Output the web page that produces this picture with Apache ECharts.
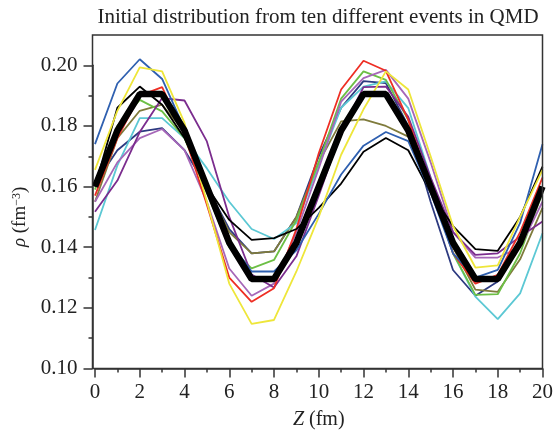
<!DOCTYPE html>
<html>
<head>
<meta charset="utf-8">
<title>QMD initial distribution</title>
<script src="https://cdn.jsdelivr.net/npm/echarts@6/dist/echarts.min.js"></script>
<style>
  html, body { margin: 0; padding: 0; background: #fff; }
  #chart { width: 556px; height: 435px; }
</style>
</head>
<body>
<div id="chart"></div>
<script>
// Z positions (fm)
var zPos = [0, 1, 2, 3, 4, 5, 6, 7, 8, 9, 10, 11, 12, 13, 14, 15, 16, 17, 18, 19, 20];

// density of the ten events
var evBlue   = [0.174, 0.194, 0.202, 0.1955, 0.179, 0.160, 0.142, 0.132, 0.132, 0.139, 0.151, 0.164, 0.1735, 0.178, 0.175, 0.158, 0.138, 0.130, 0.1325, 0.148, 0.174];
var evYellow = [0.1655, 0.185, 0.1993, 0.198, 0.181, 0.155, 0.128, 0.1147, 0.116, 0.132, 0.150, 0.1705, 0.1855, 0.198, 0.192, 0.170, 0.147, 0.1333, 0.134, 0.150, 0.1655];
var evBlack  = [0.160, 0.186, 0.193, 0.187, 0.176, 0.160, 0.149, 0.1424, 0.143, 0.146, 0.153, 0.161, 0.1715, 0.176, 0.172, 0.158, 0.147, 0.1394, 0.1388, 0.150, 0.1666];
var evRed    = [0.157, 0.176, 0.190, 0.1928, 0.177, 0.154, 0.130, 0.122, 0.1265, 0.146, 0.171, 0.192, 0.2015, 0.1982, 0.182, 0.160, 0.138, 0.128, 0.1309, 0.145, 0.163];
var evGreen  = [0.159, 0.180, 0.1886, 0.1848, 0.176, 0.158, 0.140, 0.133, 0.1358, 0.149, 0.168, 0.189, 0.198, 0.1952, 0.182, 0.160, 0.138, 0.1243, 0.1245, 0.138, 0.158];
var evOlive  = [0.155, 0.176, 0.185, 0.187, 0.178, 0.160, 0.145, 0.138, 0.1386, 0.150, 0.168, 0.1815, 0.1822, 0.180, 0.1765, 0.160, 0.140, 0.126, 0.1253, 0.136, 0.153];
var evCyan   = [0.1457, 0.167, 0.1826, 0.1826, 0.176, 0.166, 0.155, 0.146, 0.1427, 0.148, 0.167, 0.186, 0.193, 0.1947, 0.1859, 0.163, 0.138, 0.1237, 0.1163, 0.1248, 0.1446];
var evNavy   = [0.161, 0.172, 0.1781, 0.1793, 0.172, 0.160, 0.146, 0.138, 0.1386, 0.150, 0.170, 0.186, 0.1948, 0.1941, 0.180, 0.155, 0.1325, 0.124, 0.1287, 0.142, 0.160];
var evPurple = [0.1517, 0.162, 0.178, 0.1892, 0.1884, 0.1749, 0.150, 0.131, 0.1267, 0.137, 0.157, 0.178, 0.1928, 0.193, 0.183, 0.163, 0.145, 0.1375, 0.138, 0.1435, 0.1485];
var evViolet = [0.155, 0.168, 0.176, 0.179, 0.172, 0.155, 0.133, 0.124, 0.128, 0.145, 0.166, 0.188, 0.1958, 0.1985, 0.189, 0.168, 0.145, 0.1366, 0.1366, 0.140, 0.155];

// thick black curve
var rhoMean  = [0.160, 0.1785, 0.1905, 0.1905, 0.1785, 0.160, 0.1415, 0.1295, 0.1295, 0.1415, 0.160, 0.1785, 0.1905, 0.1905, 0.1785, 0.160, 0.1415, 0.1295, 0.1295, 0.1415, 0.160];

var serif = "'Liberation Serif', 'Times New Roman', serif";
var axisColor = '#333';

function pairs(vals) {
  return vals.map(function (v, i) { return [zPos[i], v]; });
}

var events = [
  { data: evNavy,   color: '#2d3a80' },
  { data: evOlive,  color: '#7f7b3c' },
  { data: evCyan,   color: '#5cc8d4' },
  { data: evGreen,  color: '#6cbf45' },
  { data: evViolet, color: '#a667b8' },
  { data: evPurple, color: '#7b2d8e' },
  { data: evRed,    color: '#ee2e24' },
  { data: evBlack,  color: '#000000' },
  { data: evBlue,   color: '#2f60b0' },
  { data: evYellow, color: '#eee63a' }
];

var series = events.map(function (e) {
  return {
    type: 'line', xAxisIndex: 0, yAxisIndex: 0,
    data: pairs(e.data), symbol: 'none', silent: true,
    lineStyle: { color: e.color, width: 1.8 }, z: 2
  };
});
series.push({
  type: 'line', xAxisIndex: 0, yAxisIndex: 0,
  data: pairs(rhoMean), symbol: 'none', silent: true,
  lineStyle: { color: '#000', width: 6.5 }, z: 3
});

var chart = echarts.init(document.getElementById('chart'));
chart.setOption({
  animation: false,
  backgroundColor: '#fff',
  graphic: [{
    type: 'text', x: 318, y: 17,
    style: {
      text: 'Initial distribution from ten different events in QMD',
      font: '21px ' + serif, fill: '#222', align: 'center', verticalAlign: 'middle'
    }
  }],
  grid: [
    // data area
    { left: 95, right: 13.5, top: 35, bottom: 66.5 },
    // frame
    { left: 92.5, right: 13.5, top: 35, bottom: 66.5, show: true, borderColor: axisColor, borderWidth: 1.5, backgroundColor: 'transparent', z: 4 },
    // y ticks 0.10 - 0.20
    { left: 92.5, right: 13.5, top: 65.3, bottom: 66.5 }
  ],
  xAxis: [
    {
      gridIndex: 0, type: 'value', min: 0, max: 20, interval: 2,
      axisLine: { show: true, lineStyle: { color: axisColor, width: 1.5 } },
      axisTick: { length: 9, lineStyle: { color: axisColor, width: 1.5 } },
      minorTick: { show: true, splitNumber: 2, length: 4, lineStyle: { color: axisColor, width: 1.5 } },
      splitLine: { show: false },
      axisLabel: { margin: 13, fontFamily: serif, fontSize: 21, color: '#222' },
      name: '{i|Z} (fm)', nameLocation: 'middle', nameGap: 41,
      nameTextStyle: {
        fontFamily: serif, fontSize: 20, color: '#222',
        rich: { i: { fontFamily: serif, fontSize: 20, fontStyle: 'italic', color: '#222' } }
      }
    },
    { gridIndex: 1, type: 'value', min: 0, max: 20, show: false },
    { gridIndex: 2, type: 'value', min: 0, max: 20, show: false }
  ],
  yAxis: [
    { gridIndex: 0, type: 'value', min: 0.10, max: 0.21, show: false },
    { gridIndex: 1, type: 'value', min: 0.10, max: 0.21, show: false },
    {
      gridIndex: 2, type: 'value', min: 0.10, max: 0.20, interval: 0.02,
      axisLine: { show: true, lineStyle: { color: axisColor, width: 1.5 } },
      axisTick: { length: 9, lineStyle: { color: axisColor, width: 1.5 } },
      minorTick: { show: true, splitNumber: 2, length: 4, lineStyle: { color: axisColor, width: 1.5 } },
      splitLine: { show: false },
      axisLabel: {
        margin: 15, fontFamily: serif, fontSize: 21, color: '#222',
        formatter: function (v) { return v.toFixed(2); }
      },
      name: '{i|ρ} (fm{s|−3})', nameLocation: 'middle', nameGap: 52,
      nameTextStyle: {
        fontFamily: serif, fontSize: 19, color: '#222',
        rich: {
          i: { fontFamily: serif, fontSize: 19, fontStyle: 'italic', color: '#222' },
          s: { fontFamily: serif, fontSize: 12, color: '#222', verticalAlign: 'top' }
        }
      }
    }
  ],
  series: series
});
</script>
</body>
</html>
